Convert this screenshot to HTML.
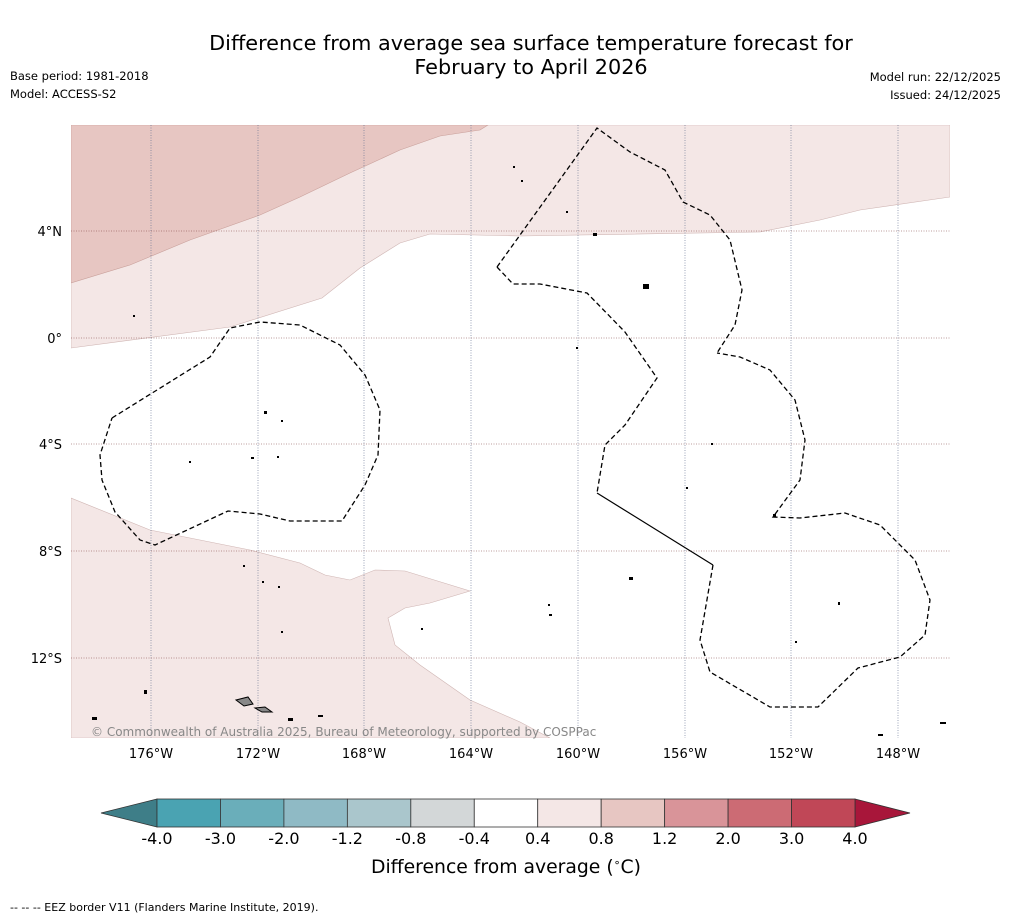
<!DOCTYPE html>
<html><head><meta charset="utf-8"><style>
body{margin:0;background:#fff;font-family:"Liberation Sans","DejaVu Sans",sans-serif;}
svg text{font-family:"DejaVu Sans","Liberation Sans",sans-serif;}
</style></head><body>
<svg width="1011" height="919" viewBox="0 0 1011 919" xmlns="http://www.w3.org/2000/svg">
<rect width="1011" height="919" fill="#fff"/>
<text x="531" y="50" font-size="20.8" text-anchor="middle">Difference from average sea surface temperature forecast for</text>
<text x="531" y="74" font-size="20.8" text-anchor="middle">February to April 2026</text>
<text x="10" y="80" font-size="11.5">Base period: 1981-2018</text>
<text x="10" y="98" font-size="11.5">Model: ACCESS-S2</text>
<text x="1001" y="81" font-size="11.5" text-anchor="end">Model run: 22/12/2025</text>
<text x="1001" y="99" font-size="11.5" text-anchor="end">Issued: 24/12/2025</text>

<g>
<clipPath id="mc"><rect x="71" y="125" width="879" height="613"/></clipPath>
<g clip-path="url(#mc)">
<polygon fill="#f4e7e6" stroke="#cfb5b3" stroke-width="0.6" points="71,348 230,327 322,298 360,268 400,243 430,234 520,236 760,232 820,220 860,210 950,197 950,125 71,125"/>
<polygon fill="#e7c6c2" stroke="#c9a09b" stroke-width="0.6" points="71,283 130,265 190,240 260,215 300,197 350,173 400,150 440,136 480,130 488,125 71,125"/>
<polygon fill="#f4e7e6" stroke="#cfb5b3" stroke-width="0.6" points="71,498 150,530 250,550 300,563 325,575 350,580 375,570 405,571 470,591 430,603 405,608 388,618 395,645 420,665 470,700 520,722 550,738 71,738"/>
<g stroke="#5a6a8a" stroke-width="0.6" stroke-dasharray="1,1.5">
<line x1="151" y1="125" x2="151" y2="738"/><line x1="258" y1="125" x2="258" y2="738"/><line x1="364" y1="125" x2="364" y2="738"/><line x1="471" y1="125" x2="471" y2="738"/><line x1="578" y1="125" x2="578" y2="738"/><line x1="685" y1="125" x2="685" y2="738"/><line x1="791" y1="125" x2="791" y2="738"/><line x1="898" y1="125" x2="898" y2="738"/>
</g>
<g stroke="#7a3a3a" stroke-width="0.6" stroke-dasharray="1,1.5">
<line x1="71" y1="231" x2="950" y2="231"/><line x1="71" y1="338" x2="950" y2="338"/><line x1="71" y1="444" x2="950" y2="444"/><line x1="71" y1="551" x2="950" y2="551"/><line x1="71" y1="658" x2="950" y2="658"/>
</g>
<g fill="none" stroke="#000" stroke-width="1.3" stroke-dasharray="5,3">
<polyline points="112,418 210,357 230,328 260,322 300,325 340,345 365,375 380,410 378,455 365,485 342,521 290,521 260,514 228,511 155,545 140,540 115,512 102,480 100,455 112,418"/>
<polyline points="497,267 597,128 630,152 665,170 683,202 710,215 730,240 742,290 735,325 717,353"/>
<polyline points="497,267 513,284 540,284 587,293 625,332 657,378 625,425 605,445 597,493"/>
<polyline points="713,565 700,640 710,672 770,707 818,707 858,668 900,657 925,635 930,600 915,560 880,525 845,513 800,518 773,517 800,480 805,440 795,400 770,370 740,357 717,353"/>
</g>
<line x1="597" y1="493" x2="713" y2="565" stroke="#000" stroke-width="1.2"/>
<g fill="#000">
<polygon points="236,700 248,697 253,704 244,706" fill="#888" stroke="#000"/>
<polygon points="255,708 265,707 272,712 262,712" fill="#888" stroke="#000"/>
<rect x="144" y="690" width="3" height="4"/><rect x="92" y="717" width="5" height="3"/><rect x="288" y="718" width="5" height="3"/><rect x="318" y="715" width="5" height="2"/>
<rect x="264" y="411" width="3" height="3"/><rect x="251" y="457" width="3" height="2"/><rect x="189" y="461" width="2" height="2"/><rect x="277" y="456" width="2" height="2"/><rect x="281" y="420" width="2" height="2"/>
<rect x="593" y="233" width="4" height="3"/><rect x="643" y="284" width="6" height="5"/><rect x="513" y="166" width="2" height="2"/><rect x="521" y="180" width="2" height="2"/><rect x="566" y="211" width="2" height="2"/>
<rect x="711" y="443" width="2" height="2"/><rect x="686" y="487" width="2" height="2"/><rect x="629" y="577" width="4" height="3"/><rect x="548" y="604" width="2" height="2"/><rect x="549" y="614" width="3" height="2"/><rect x="421" y="628" width="2" height="2"/>
<rect x="838" y="602" width="2" height="3"/><rect x="795" y="641" width="2" height="2"/><rect x="773" y="514" width="3" height="3"/><rect x="878" y="734" width="5" height="2"/><rect x="940" y="722" width="6" height="2"/>
<rect x="243" y="565" width="2" height="2"/><rect x="262" y="581" width="2" height="2"/><rect x="278" y="586" width="2" height="2"/><rect x="281" y="631" width="2" height="2"/><rect x="133" y="315" width="2" height="2"/><rect x="576" y="347" width="2" height="2"/>
</g>
</g>
<text x="91" y="736" font-size="12" fill="#888">© Commonwealth of Australia 2025, Bureau of Meteorology, supported by COSPPac</text>
<g font-size="13" text-anchor="middle">
<text x="151" y="758">176°W</text><text x="258" y="758">172°W</text><text x="364" y="758">168°W</text><text x="471" y="758">164°W</text><text x="578" y="758">160°W</text><text x="685" y="758">156°W</text><text x="791" y="758">152°W</text><text x="898" y="758">148°W</text>
</g>
<g font-size="13" text-anchor="end">
<text x="62" y="236">4°N</text><text x="62" y="343">0°</text><text x="62" y="449">4°S</text><text x="62" y="556">8°S</text><text x="62" y="663">12°S</text>
</g>
</g>

<g id="cbar"></g>
<text x="506" y="873" font-size="18.8" text-anchor="middle">Difference from average (<tspan font-size="11" dy="-7">∘</tspan><tspan dy="7">C)</tspan></text>
<text x="10" y="911" font-size="11">--  --  -- EEZ border V11 (Flanders Marine Institute, 2019).</text>
</svg>
<script>
const levels=["-4.0","-3.0","-2.0","-1.2","-0.8","-0.4","0.4","0.8","1.2","2.0","3.0","4.0"];
const colors=["#4aa3b2","#6aaeba","#8fbac5","#aac6cc","#d3d7d8","#ffffff","#f4e7e6","#e7c6c2","#d99499","#cc6b74","#c04757"];
const extendColors=["#3e7e88","#a8163a"];
const NS="http://www.w3.org/2000/svg";
const g=document.getElementById('cbar');
const x0=157,x1=855,y0=799,y1=827,n=colors.length,w=(x1-x0)/n;
function mk(t,a){const e=document.createElementNS(NS,t);for(const k in a)e.setAttribute(k,a[k]);g.appendChild(e);return e;}
let l=mk('polygon',{points:`${x0},${y0} ${x0},${y1} 101,813`,fill:extendColors[0],stroke:'#333','stroke-width':0.8});


let r=mk('polygon',{points:`${x1},${y0} ${x1},${y1} 910,813`,fill:extendColors[1],stroke:'#333','stroke-width':0.8});


colors.forEach((c,i)=>{
 const e=mk('rect',{x:x0+i*w,y:y0,width:w,height:y1-y0,fill:c,stroke:'#333','stroke-width':0.8});
 
 
});
levels.forEach((t,i)=>{
 const e=mk('text',{x:x0+i*w,y:844,'font-size':16,'text-anchor':'middle'});
 e.textContent=t;
 
 
});
</script>
</body></html>
